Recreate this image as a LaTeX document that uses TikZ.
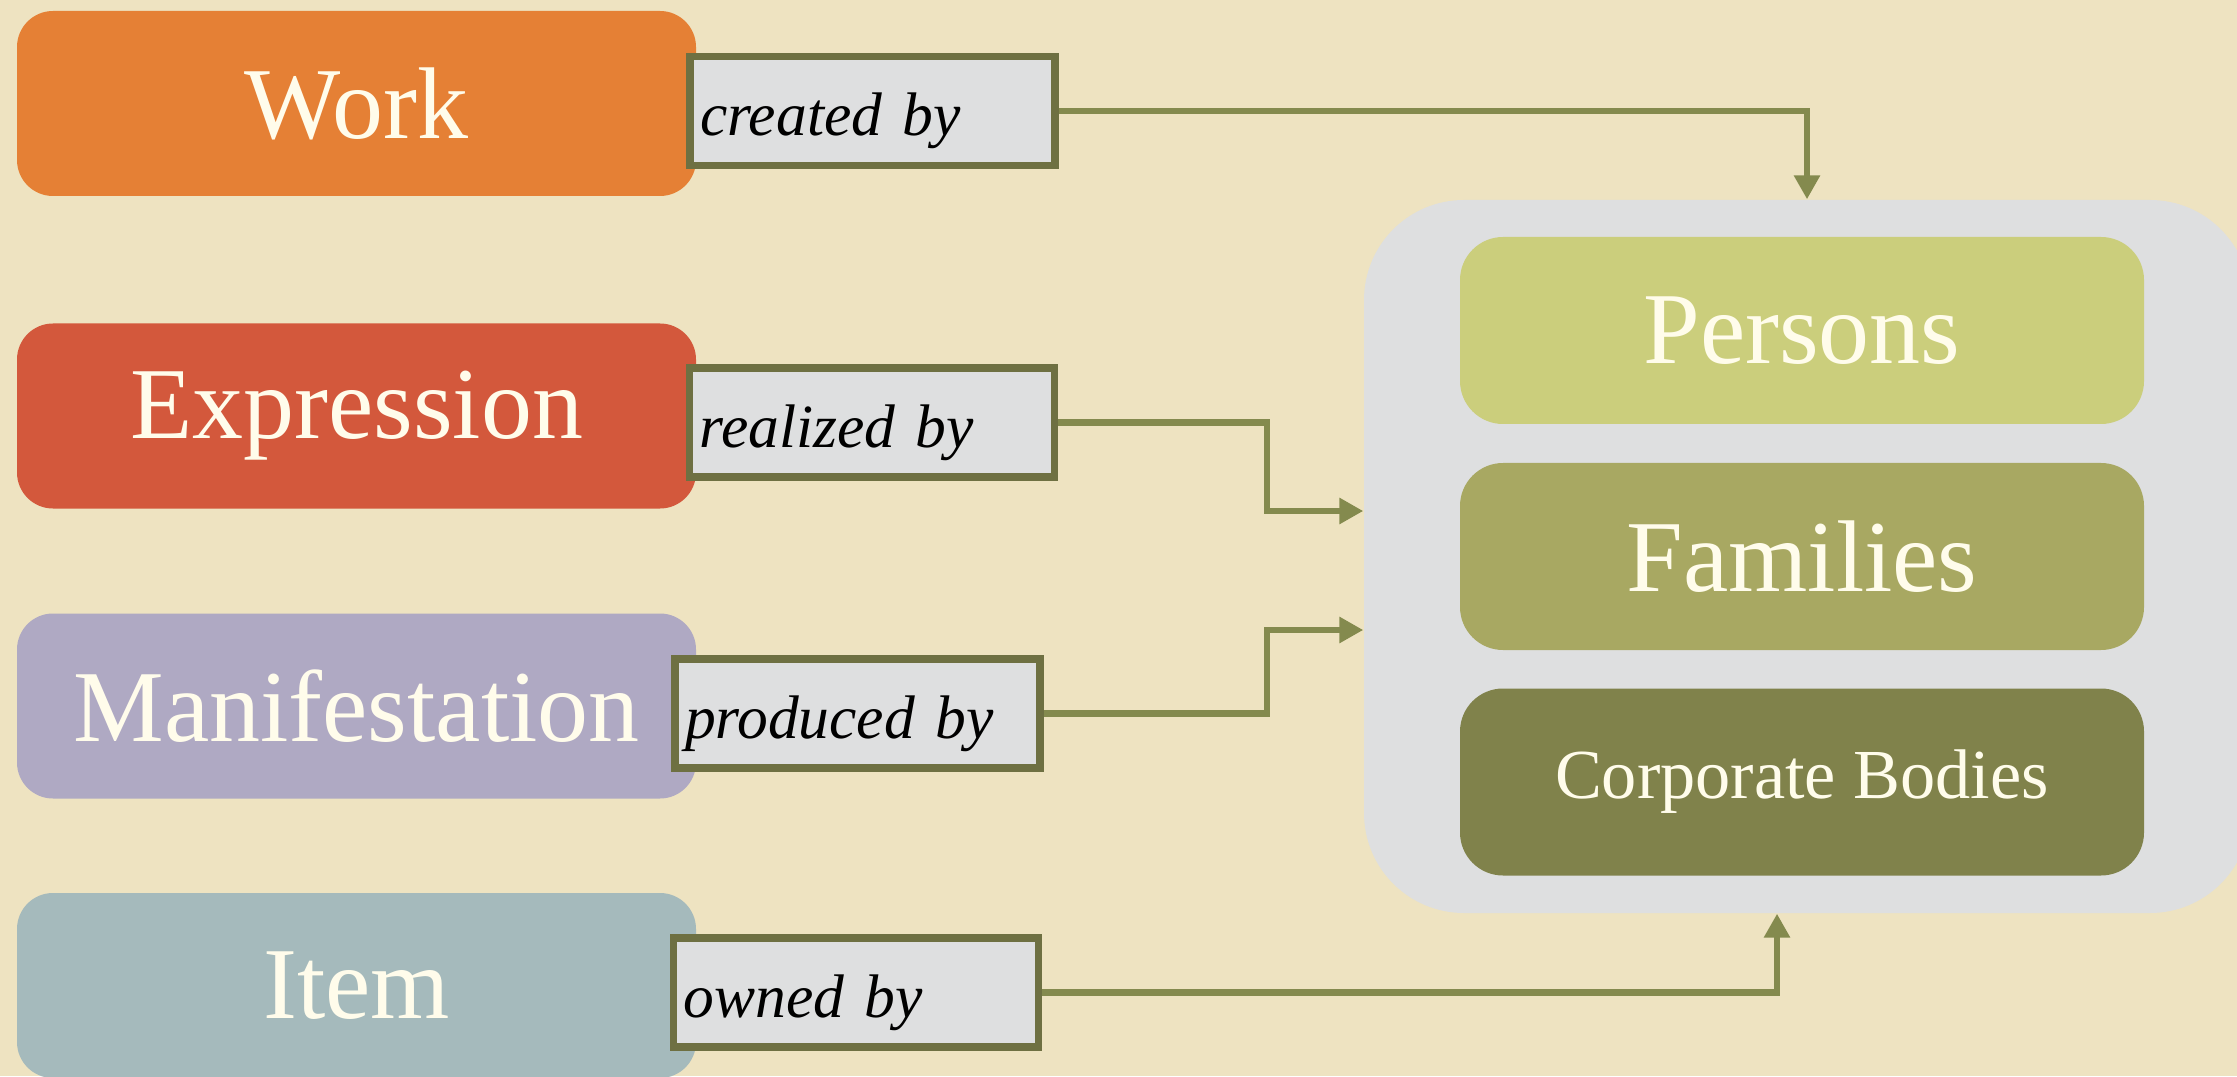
\documentclass[tikz,border=0pt]{standalone}
\usepackage{fontspec}
\setmainfont{Liberation Serif}
\usetikzlibrary{arrows.meta}
\pgfdeclarelayer{bg}
\pgfsetlayers{bg,main}
\definecolor{paper}{HTML}{EEE3C1}
\definecolor{cream}{HTML}{FFFCEB}
\definecolor{workc}{HTML}{E58035}
\definecolor{exprc}{HTML}{D3583C}
\definecolor{manic}{HTML}{AFA9C3}
\definecolor{itemc}{HTML}{A5BABC}
\definecolor{relfill}{HTML}{DEDFE0}
\definecolor{relline}{HTML}{6E7042}
\definecolor{arrowc}{HTML}{848A4E}
\definecolor{persc}{HTML}{CBCE7C}
\definecolor{famc}{HTML}{A8A862}
\definecolor{corpc}{HTML}{80824B}
\tikzset{
    entity/.style={rounded corners=3.6mm, minimum width=6.79cm,
    	minimum height=1.85cm, inner sep=0pt, text=cream,
    	font=\fontsize{29}{32}\selectfont},
    agent/.style={entity, rounded corners=4.3mm, minimum width=6.84cm,
    	minimum height=1.87cm},
    relbox/.style={draw=relline, line width=2.2pt, fill=relfill,
    	minimum width=3.65cm, minimum height=1.09cm, inner xsep=0.1cm,
    	text width=3.45cm, align=left, text height=0.5cm, text depth=0pt,
    	font=\fontsize{17.5}{20}\selectfont\itshape},
    arr/.style={draw=arrowc, line width=1.9pt,
    	-{Triangle[length=2.4mm, width=2.5mm]}}
}

\begin{document}
\begin{tikzpicture}
  \begin{pgfonlayer}{bg}
    \fill[paper] (0,0) rectangle (22.37,10.76);
  \end{pgfonlayer}
  \useasboundingbox (0,0) rectangle (22.37,10.76);

  % group of agents
  \node (agents) [fill=relfill, rounded corners=1cm, minimum width=8.86cm,
    minimum height=7.13cm] at (18.07, 5.195) {};
  \node (pers) [agent, fill=persc] at (18.02, 7.455) {Persons};
  \node (fam)  [agent, fill=famc]  at (18.02, 5.195) {Families};
  \node (corp) [agent, fill=corpc, font=\fontsize{20}{22}\selectfont]
    at (18.02, 2.94) {Corporate Bodies};

  % group 1 entities
  \node (work) [entity, fill=workc] at (3.565, 9.725) {Work};
  \node (expr) [entity, fill=exprc] at (3.565, 6.60)  {Expression};
  \node (mani) [entity, fill=manic] at (3.565, 3.70)  {Manifestation};
  \node (item) [entity, fill=itemc] at (3.565, 0.905) {Item};

  % relationships
  \node (created)  [relbox] at (8.725, 9.65)  {created by};
  \node (realized) [relbox] at (8.72, 6.535)  {realized by};
  \node (produced) [relbox] at (8.575, 3.625) {produced by};
  \node (owned)    [relbox] at (8.56, 0.835)  {owned by};

  \coordinate (r1) at (12.67, 5.65);
  \coordinate (p1) at (12.67, 4.46);
  \coordinate (o1) at (17.77, 0.82);

  \begin{pgfonlayer}{bg}
	  \draw[arr] (created.east) -| (agents.north);
	  \draw[arr] (realized.east) -| (r1) -- (r1 -| agents.west);
	  \draw[arr] (produced.east) -| (p1) -- (p1 -| agents.west);
	  \draw[arr] (owned.east) -| (o1 |- agents.south);
  \end{pgfonlayer}

\end{tikzpicture}
\end{document}
